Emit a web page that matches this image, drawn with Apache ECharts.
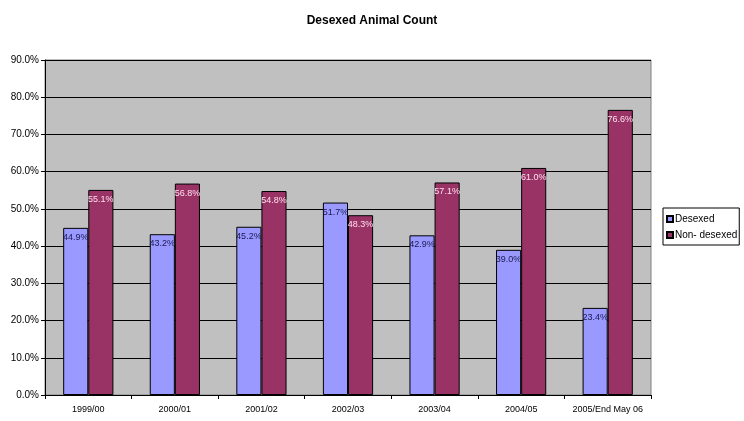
<!DOCTYPE html>
<html>
<head>
<meta charset="utf-8">
<script src="https://cdn.jsdelivr.net/npm/echarts@6/dist/echarts.min.js"></script>
<style>
  html, body { margin: 0; padding: 0; background: #ffffff; }
  #chart { width: 744px; height: 421px; }
</style>
</head>
<body>
<div id="chart"></div>
<script>
// Financial years shown along the bottom axis
const years = ['1999/00', '2000/01', '2001/02', '2002/03', '2003/04', '2004/05', '2005/End May 06'];
// Share of animals, in percent
const desexed = [44.9, 43.2, 45.2, 51.7, 42.9, 39.0, 23.4];
const nonDesexed = [55.1, 56.8, 54.8, 48.3, 57.1, 61.0, 76.6];

const FONT = '"Liberation Sans", Arial, sans-serif';
const pct = v => Number(v).toFixed(1) + '%';

const chart = echarts.init(document.getElementById('chart'), null, { renderer: 'canvas' });

chart.setOption({
  animation: false,
  backgroundColor: '#ffffff',
  title: {
    text: 'Desexed Animal Count',
    left: 'center',
    top: 10,
    textStyle: { fontFamily: FONT, fontSize: 12, fontWeight: 'bold', color: '#000' }
  },
  legend: {
    orient: 'vertical',
    left: 663,
    top: 208,
    padding: [6, 2, 5, 3],
    itemGap: 6,
    itemWidth: 6,
    itemHeight: 6,
    icon: 'rect',
    borderColor: '#000',
    borderWidth: 1,
    backgroundColor: '#fff',
    textStyle: { fontFamily: FONT, fontSize: 10, color: '#000', padding: [0, 0, 0, -3] },
    data: ['Desexed', 'Non- desexed']
  },
  grid: {
    left: 45,
    right: 93,
    top: 60,
    bottom: 26,
    show: true,
    backgroundColor: '#c0c0c0',
    borderColor: '#808080',
    borderWidth: 1
  },
  xAxis: {
    type: 'category',
    data: years,
    axisLine: { lineStyle: { color: '#000', width: 1 } },
    axisTick: { show: true, interval: 0, length: 4, inside: false, lineStyle: { color: '#000' } },
    axisLabel: { interval: 0, fontFamily: FONT, fontSize: 9, color: '#000', margin: 10 }
  },
  yAxis: {
    type: 'value',
    min: 0,
    max: 90,
    interval: 10,
    axisLine: { show: true, lineStyle: { color: '#000', width: 1 } },
    axisTick: { show: true, length: 4, lineStyle: { color: '#000' } },
    axisLabel: { fontFamily: FONT, fontSize: 10, color: '#000', margin: 6, formatter: pct },
    splitLine: { show: true, lineStyle: { color: '#000', width: 1 } }
  },
  series: [
    {
      name: 'Desexed',
      type: 'bar',
      data: desexed,
      barGap: '0%',
      barCategoryGap: '42%',
      itemStyle: { color: '#9999ff', borderColor: '#000', borderWidth: 1 },
      label: {
        show: true,
        position: 'insideTop',
        distance: 5,
        formatter: p => pct(p.value),
        fontFamily: FONT,
        fontSize: 9,
        color: '#1a1a50'
      }
    },
    {
      name: 'Non- desexed',
      type: 'bar',
      data: nonDesexed,
      barGap: '0%',
      barCategoryGap: '42%',
      itemStyle: { color: '#993366', borderColor: '#000', borderWidth: 1 },
      label: {
        show: true,
        position: 'insideTop',
        distance: 5,
        formatter: p => pct(p.value),
        fontFamily: FONT,
        fontSize: 9,
        color: '#ffe0f0'
      }
    }
  ]
});
</script>
</body>
</html>
